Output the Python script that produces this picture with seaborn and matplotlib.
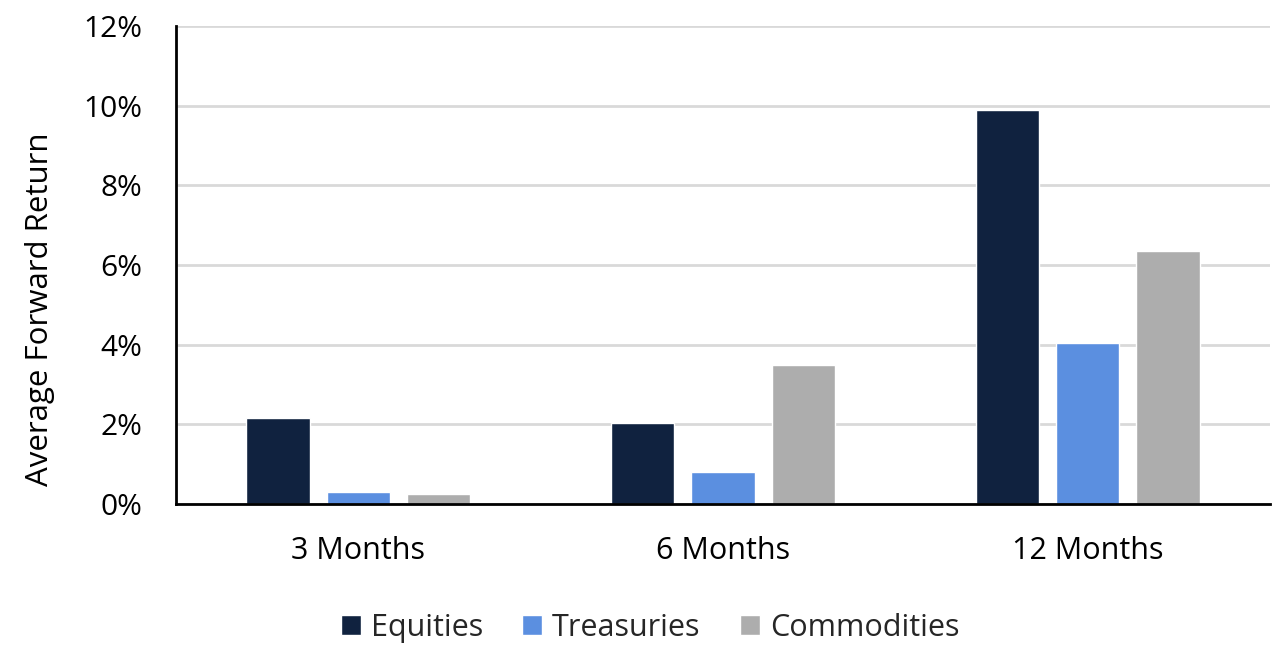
import matplotlib
matplotlib.use("Agg")
import matplotlib.pyplot as plt
import seaborn as sns
import pandas as pd
from matplotlib.patches import Patch
from matplotlib.ticker import PercentFormatter

horizons = ["3 Months", "6 Months", "12 Months"]
series = ["Equities", "Treasuries", "Commodities"]
equities = [2.16, 2.03, 9.90]
treasuries = [0.30, 0.80, 4.03]
commodities = [0.24, 3.49, 6.35]
colors = ["#10223F", "#5B8FE0", "#ADADAD"]

df = pd.DataFrame({
    "Horizon": horizons * 3,
    "Asset": [s for s in series for _ in horizons],
    "Return": equities + treasuries + commodities,
})

sns.set_style("white")
plt.rcParams["font.family"] = ["Open Sans", "DejaVu Sans"]

fig = plt.figure(figsize=(12.8, 6.55), dpi=100)
ax = fig.add_axes([176 / 1280, 1 - 504 / 655, 1094 / 1280, 478 / 655])

sns.barplot(data=df, x="Horizon", y="Return", hue="Asset", order=horizons,
            hue_order=series, palette=colors, width=0.66, gap=0.21,
            saturation=1, legend=False, ax=ax)

ax.set_ylim(0, 12)
ax.set_xlim(-0.5, 2.5)
ax.set_yticks(range(0, 13, 2))
ax.yaxis.set_major_formatter(PercentFormatter(decimals=0))
ax.grid(axis="y", color="#D9D9D9", linewidth=2)
ax.set_axisbelow(True)
for side in ["top", "right"]:
    ax.spines[side].set_visible(False)
for side in ["left", "bottom"]:
    ax.spines[side].set_color("black")
    ax.spines[side].set_linewidth(2)

ax.tick_params(axis="y", length=0, pad=24, labelsize=21.5, labelcolor="black")
ax.tick_params(axis="x", length=0, pad=23, labelsize=22, labelcolor="black")
ax.set_xlabel("")
ax.set_ylabel("Average Forward Return", fontsize=22.5, color="black")
ax.yaxis.set_label_coords(-0.111, 0.408)

# legend sits under the axes, centred on the figure
handles = [Patch(facecolor=c, label=s) for c, s in zip(colors, series)]
fig.legend(handles=handles, loc="center", bbox_to_anchor=(650 / 1280, 1 - 628 / 655),
           ncol=3, frameon=False, fontsize=22, handlelength=0.65, handleheight=0.65,
           handletextpad=0.33, columnspacing=1.28)

fig.savefig("out.png", dpi=100)
